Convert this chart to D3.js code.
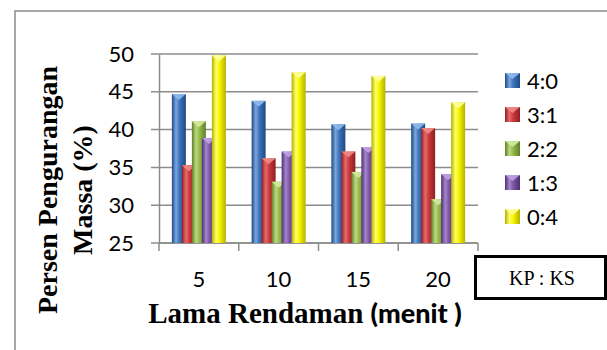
<!DOCTYPE html>
<html>
<head>
<meta charset="utf-8">
<script src="https://cdn.jsdelivr.net/npm/d3@7"></script>
<style>
  html, body { margin: 0; padding: 0; background: #fff; }
  svg { display: block; }
</style>
</head>
<body>
<svg id="chart" width="607" height="350"></svg>
<script>
// Data: mass reduction (%) by soaking time and KP:KS ratio
const categories = ["5", "10", "15", "20"];
const seriesNames = ["4:0", "3:1", "2:2", "1:3", "0:4"];
const s40 = [44.7, 43.8, 40.7, 40.8];
const s31 = [35.3, 36.2, 37.1, 40.2];
const s22 = [41.1, 33.1, 34.4, 30.8];
const s13 = [38.9, 37.1, 37.7, 34.1];
const s04 = [49.8, 47.6, 47.1, 43.6];
const seriesValues = [s40, s31, s22, s13, s04];
const yTicks = [25, 30, 35, 40, 45, 50];

const colors = [
  { base: "#3d72b8", dark: "#1f4a85", light: "#7aa6df", cap: "#8fbaf0" },
  { base: "#c9383a", dark: "#8e1f22", light: "#e86a6b", cap: "#f08a8a" },
  { base: "#94b94a", dark: "#5f7f26", light: "#bcd882", cap: "#d3ea9c" },
  { base: "#7b55a6", dark: "#4d3072", light: "#a585cc", cap: "#c0a3e3" },
  { base: "#f5f500", dark: "#b5b000", light: "#ffff66", cap: "#ffff99" }
];

const sansFont = "Lato, 'Open Sans', sans-serif";
const serifFont = "'Liberation Serif', 'Times New Roman', serif";

const svg = d3.select("#chart");
const defs = svg.append("defs");
colors.forEach((c, i) => {
  const g = defs.append("linearGradient").attr("id", "grad" + i)
    .attr("x1", "0").attr("x2", "1").attr("y1", "0").attr("y2", "0");
  g.append("stop").attr("offset", "0%").attr("stop-color", c.dark);
  g.append("stop").attr("offset", "30%").attr("stop-color", c.light);
  g.append("stop").attr("offset", "55%").attr("stop-color", c.base);
  g.append("stop").attr("offset", "100%").attr("stop-color", c.dark);
});

// outer chart frame
svg.append("rect").attr("x", 15).attr("y", 11).attr("width", 620).attr("height", 360)
  .attr("fill", "none").attr("stroke", "#8a8a8a").attr("stroke-width", 1.5);

const plot = { left: 159, right: 478, top: 54, bottom: 243 };

const x = d3.scaleBand().domain(categories).range([plot.left, plot.right]);
const y = d3.scaleLinear().domain([25, 50]).range([plot.bottom, plot.top]);

// gridlines
svg.append("g").selectAll("line").data(yTicks).join("line")
  .attr("x1", plot.left - 8).attr("x2", plot.right)
  .attr("y1", d => y(d)).attr("y2", d => y(d))
  .attr("stroke", "#8c8c8c").attr("stroke-width", 1.5);

// y axis
const yAxis = d3.axisLeft(y).tickValues(yTicks).tickSize(0).tickPadding(25);
const yg = svg.append("g").attr("transform", `translate(${plot.left},0)`).call(yAxis);
yg.select(".domain").attr("stroke", "#8c8c8c").attr("stroke-width", 1.5);
yg.selectAll("text").attr("font-family", sansFont)
  .attr("font-size", 22).attr("fill", "#000");

// x axis
const xAxis = d3.axisBottom(x).tickSize(0).tickPadding(28);
const xg = svg.append("g").attr("transform", `translate(0,${plot.bottom})`).call(xAxis);
xg.select(".domain").remove();
xg.selectAll("text").attr("font-family", sansFont)
  .attr("font-size", 22).attr("fill", "#000");
const xBounds = categories.map(c => x(c)).concat([plot.right]);
svg.append("g").selectAll("line").data(xBounds).join("line")
  .attr("x1", d => d).attr("x2", d => d)
  .attr("y1", plot.bottom).attr("y2", plot.bottom + 8)
  .attr("stroke", "#8c8c8c").attr("stroke-width", 1.5);
svg.append("line").attr("x1", plot.left).attr("x2", plot.right)
  .attr("y1", plot.bottom).attr("y2", plot.bottom)
  .attr("stroke", "#8c8c8c").attr("stroke-width", 1.5);

// bars: overlapping cylinders with a beveled top
const pitch = 10, barW = 14;
const groupW = pitch * (seriesNames.length - 1) + barW;
const bars = svg.append("g");
seriesValues.forEach((vals, si) => {
  const g = bars.append("g");
  vals.forEach((v, ci) => {
    const bx = x(categories[ci]) + x.bandwidth() / 2 - groupW / 2 + si * pitch;
    const by = y(v);
    g.append("rect").attr("x", bx).attr("y", by).attr("width", barW)
      .attr("height", plot.bottom - by).attr("fill", `url(#grad${si})`);
    g.append("path")
      .attr("d", `M${bx},${by} L${bx + barW},${by} L${bx + barW / 2},${by + 6} Z`)
      .attr("fill", colors[si].cap).attr("opacity", 0.9);
  });
});

// legend
const legend = svg.append("g");
seriesNames.forEach((name, i) => {
  const ly = 81 + i * 34;
  legend.append("rect").attr("x", 505).attr("y", ly - 8).attr("width", 15).attr("height", 15)
    .attr("fill", `url(#grad${i})`);
  legend.append("path")
    .attr("d", `M505,${ly - 8} L520,${ly - 8} L512.5,${ly - 2} Z`)
    .attr("fill", colors[i].cap).attr("opacity", 0.9);
  legend.append("text").attr("x", 527).attr("y", ly + 8)
    .attr("font-family", sansFont).attr("font-size", 22)
    .text(name);
});

// axis titles
const yTitle = svg.append("text")
  .attr("transform", "translate(0,190) rotate(-90)")
  .attr("text-anchor", "middle")
  .attr("font-family", serifFont)
  .attr("font-weight", "bold").attr("font-size", 28);
yTitle.append("tspan").attr("x", 0).attr("y", 57).text("Persen Pengurangan");
yTitle.append("tspan").attr("x", 0).attr("y", 92).text("Massa (%)");

const xTitle = svg.append("text").attr("x", 305).attr("y", 323)
  .attr("text-anchor", "middle")
  .attr("font-family", serifFont)
  .attr("font-weight", "bold").attr("font-size", 29);
xTitle.append("tspan").text("Lama Rendaman ");
xTitle.append("tspan").attr("font-family", sansFont).attr("font-weight", 900)
  .attr("font-size", 27).text("(menit )");

// ratio note box
svg.append("rect").attr("x", 475.5).attr("y", 256.5).attr("width", 130).attr("height", 42)
  .attr("fill", "#fff").attr("stroke", "#000").attr("stroke-width", 3);
svg.append("text").attr("x", 542).attr("y", 285).attr("text-anchor", "middle")
  .attr("font-family", serifFont)
  .attr("font-size", 20).text("KP : KS");
</script>
</body>
</html>
